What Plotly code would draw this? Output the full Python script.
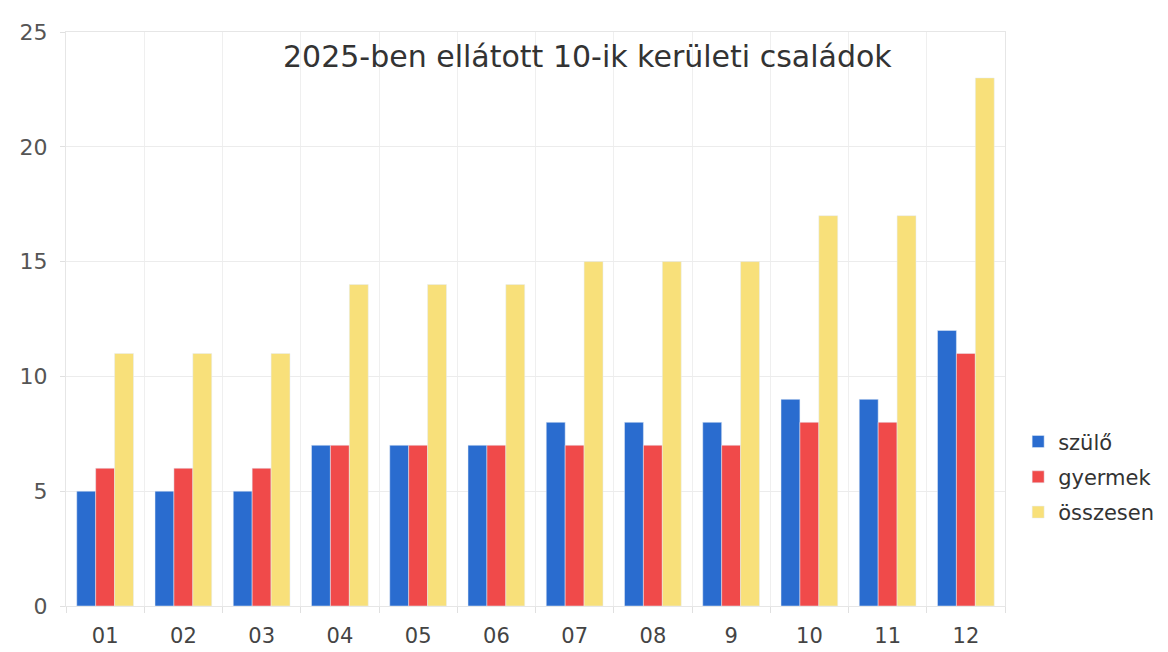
import plotly.graph_objects as go

honapok = ["01", "02", "03", "04", "05", "06", "07", "08", "9", "10", "11", "12"]
szulo = [5, 5, 5, 7, 7, 7, 8, 8, 8, 9, 9, 12]
gyermek = [6, 6, 6, 7, 7, 7, 7, 7, 7, 8, 8, 11]
osszesen = [11, 11, 11, 14, 14, 14, 15, 15, 15, 17, 17, 23]

fig = go.Figure()
fig.add_trace(go.Bar(x=honapok, y=szulo, name="szülő", marker_color="#2a6ccf", legendgroup="a"))
fig.add_trace(go.Bar(x=honapok, y=gyermek, name="gyermek", marker_color="#f04a4a", legendgroup="b"))
fig.add_trace(go.Bar(x=honapok, y=osszesen, name="összesen", marker_color="#f8e07a", legendgroup="c"))

fig.update_layout(
    width=1168, height=652,
    barmode="group", bargap=0.275, bargroupgap=0,
    plot_bgcolor="white", paper_bgcolor="white",
    font=dict(family="DejaVu Sans, Arial", color="#444"),
    margin=dict(l=53, r=171, t=21, b=53),
    title=dict(text="2025-ben ellátott 10-ik kerületi családok",
               x=0.496, xanchor="center", y=0.925, yanchor="middle",
               font=dict(size=30, color="#333")),
    legend=dict(x=1.014, y=0.225, xanchor="left", yanchor="middle",
                font=dict(size=21, color="#333"), itemwidth=30,
                tracegroupgap=5),
    xaxis=dict(showgrid=True, gridcolor="#efefef", tickson="boundaries",
               tickfont=dict(size=21, color="#444"), ticklabelstandoff=11,
               showline=True, linecolor="#e6e6e6", mirror=True,
               ticks="outside", ticklen=6, tickcolor="#e0e0e0"),
    yaxis=dict(range=[0, 25], dtick=5, showgrid=True, gridcolor="#ececec",
               tickfont=dict(size=22, color="#555"), zeroline=False, ticklabelstandoff=8,
               showline=True, linecolor="#e6e6e6", mirror=True,
               ticks="outside", ticklen=5, tickcolor="#e0e0e0"),
)

fig.write_html("out.html")
